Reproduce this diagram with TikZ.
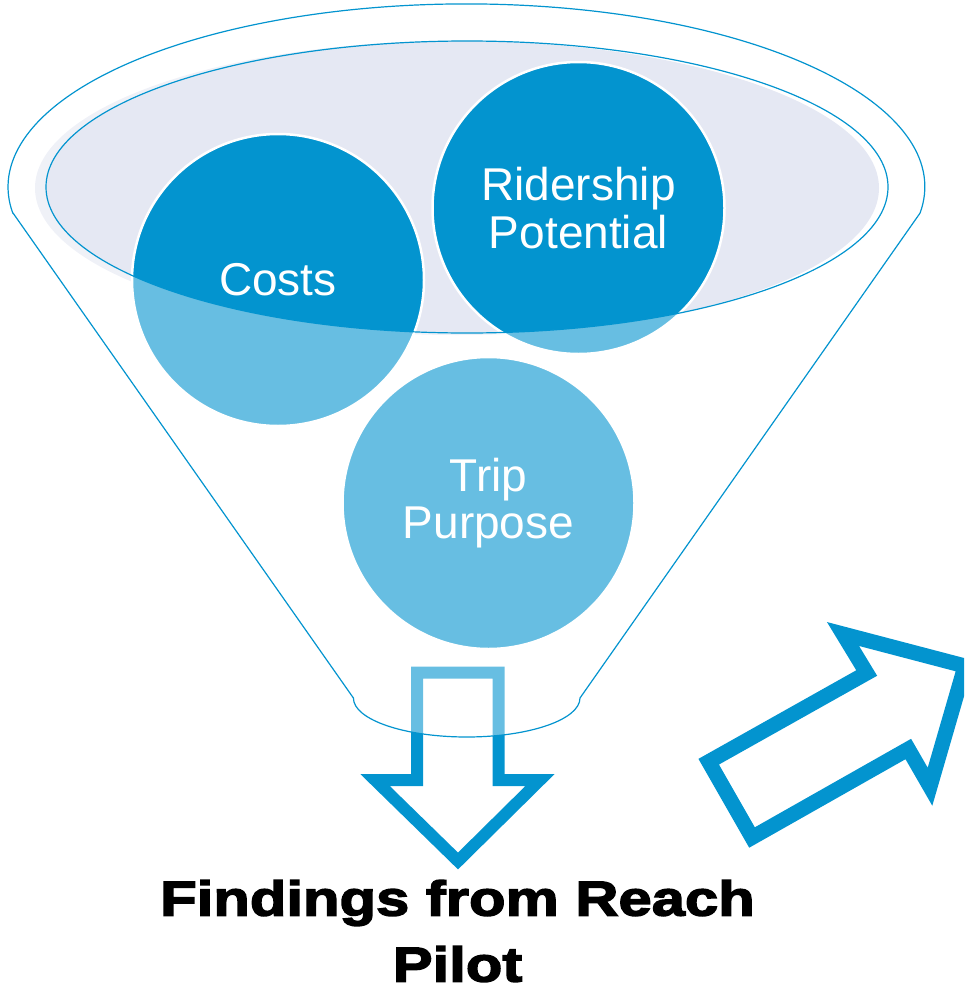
\documentclass[tikz,border=0pt]{standalone}
\usepackage{fontspec}
\setmainfont{Liberation Sans}
\newfontfamily\titlefont{Liberation Sans}[FakeBold=3,FakeStretch=1.22]

\definecolor{funnelblue}{HTML}{0394CF}
\definecolor{rimfill}{HTML}{E5E8F3}
\tikzset{
	bubble/.style={circle,fill=funnelblue,draw=white,line width=2.5pt,minimum size=292pt,inner sep=0pt,
		text=white,align=center,font=\fontsize{46}{47.5}\selectfont},
	blockarrow/.style={draw=funnelblue,line join=miter,miter limit=10},
	rim/.style={funnelblue,line width=1.2pt}
}

\begin{document}
\begin{tikzpicture}[x=1pt,y=-1pt]
	\useasboundingbox (0,0) rectangle (964,985);
	\clip (0,0) rectangle (964,985);
	% mouth of the funnel
	\fill[rimfill] (457,188) ellipse[x radius=422,y radius=147];
	\node[bubble] (costs) at (278,280) {Costs};
	\node[bubble] (ridership) at (578.5,208) {Ridership\\Potential};
	\node[bubble] (trip) at (488.5,503) {Trip\\Purpose};
	% arrow down out of the spout
	\draw[blockarrow,line width=12pt] (417,672.5)--(498.5,672.5)--(498.5,780)--(540,780)--(458,861)--(375,780)--(417,780)--cycle;
	% body of the funnel, see-through
	\fill[white,opacity=.4,even odd rule] (13,213)--(353.4,698) arc[start angle=180,end angle=0,x radius=113.3,y radius=39]
		--(920.1,213) arc[start angle=8.2,end angle=-188.2,x radius=458.4,y radius=183]--cycle
		(467,187) ellipse[x radius=421,y radius=146];
	\draw[rim] (13,213)--(353.4,698) arc[start angle=180,end angle=0,x radius=113.3,y radius=39]
		--(920.1,213) arc[start angle=8.2,end angle=-188.2,x radius=458.4,y radius=183]--cycle;
	\draw[rim] (467,187) ellipse[x radius=421,y radius=146];
	% arrow pointing up and right
	\draw[blockarrow,line width=15pt] (708.7,761.7)--(752,837.5)--(908.3,749)--(930,786.7)--(965,666)--(843,634)--(866.7,673)--cycle;
	\node[font=\titlefont\bfseries\fontsize{49}{66}\selectfont,align=center,inner sep=0pt] (title) at (457.5,931) {Findings from Reach\\Pilot};
\end{tikzpicture}
\end{document}
